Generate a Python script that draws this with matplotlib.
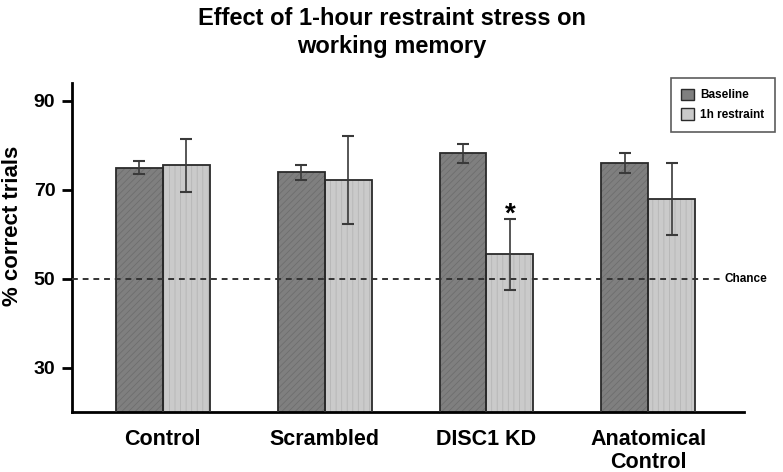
import matplotlib
matplotlib.use('Agg')
import matplotlib.pyplot as plt
import numpy as np
from matplotlib.patches import Patch

plt.rcParams['font.family'] = ['Liberation Sans', 'DejaVu Sans']
plt.rcParams['font.weight'] = 'bold'
plt.rcParams['hatch.linewidth'] = 0.6

groups = ['Control', 'Scrambled', 'DISC1 KD', 'Anatomical\nControl']
baseline = [75.0, 73.9, 78.2, 76.0]
baseline_err = [1.4, 1.7, 2.2, 2.3]
restraint = [75.5, 72.2, 55.5, 67.9]
restraint_err = [6.0, 10.0, 8.0, 8.1]
chance = 50
yticks = [30, 50, 70, 90]

fig = plt.figure(figsize=(7.83, 4.72), dpi=100)
ax = fig.add_axes([0.092, 0.127, 0.858, 0.697])

x = np.arange(len(groups))
w = 0.29

# fills with hatch, then outlines on top
ax.bar(x - w/2, baseline, w, bottom=0, color='#7f7f7f', edgecolor='#6e6e6e', hatch='/////', lw=0, zorder=2)
ax.bar(x + w/2, restraint, w, bottom=0, color='#cacaca', edgecolor='#b5b5b5', hatch='|||', lw=0, zorder=2)
ax.bar(x - w/2, baseline, w, fill=False, edgecolor='#2a2a2a', lw=1.3, zorder=3)
ax.bar(x + w/2, restraint, w, fill=False, edgecolor='#2a2a2a', lw=1.3, zorder=3)

ax.errorbar(x - w/2, baseline, yerr=baseline_err, fmt='none', ecolor='#3a3a3a', elinewidth=1.2, capsize=4, capthick=1.5, zorder=4)
ax.errorbar(x + w/2, restraint, yerr=restraint_err, fmt='none', ecolor='#3a3a3a', elinewidth=1.2, capsize=4, capthick=1.5, zorder=4)

ax.plot([-0.56, 3.45], [chance, chance], ls=(0, (3, 2.5)), color='#333333', lw=1.4, zorder=5)
ax.text(3.47, chance, 'Chance', fontsize=8.5, fontweight='bold', va='center', ha='left', clip_on=False)

ax.text(x[2] + w/2, restraint[2] + restraint_err[2] + 0.9, '*', fontsize=20, fontweight='bold', ha='center', va='center')

ax.set_xlim(-0.56, 3.59)
ax.set_ylim(20, 94)
ax.set_yticks(yticks)
ax.set_yticklabels([str(t) for t in yticks], fontsize=14, fontweight='bold')
ax.set_xticks(x)
ax.set_xticklabels(groups, fontsize=15.5, fontweight='bold', linespacing=1.12)
ax.tick_params(axis='x', length=0, pad=12)
ax.tick_params(axis='y', length=7, width=2, direction='out', pad=5)
fig.text(13/783, 1 - 226/472, '% correct trials', rotation=90, fontsize=16,
         fontweight='bold', ha='center', va='center')

for s in ['top', 'right']:
    ax.spines[s].set_visible(False)
ax.spines['left'].set_linewidth(2)
ax.spines['bottom'].set_linewidth(2)

handles = [Patch(facecolor='#7f7f7f', edgecolor='#2a2a2a', label='Baseline'),
           Patch(facecolor='#cacaca', edgecolor='#2a2a2a', label='1h restraint')]
leg = fig.legend(handles=handles, loc='upper right', bbox_to_anchor=(781/783, 1 - 72/472),
                 prop={'size': 8.5, 'weight': 'bold'}, frameon=True, fancybox=False,
                 handlelength=1.1, handleheight=1.1, handletextpad=0.5, borderpad=0.9,
                 labelspacing=0.6)
leg.get_frame().set_edgecolor('#333333')
leg.get_frame().set_linewidth(1.2)

fig.suptitle('Effect of 1-hour restraint stress on\nworking memory', x=0.5, y=0.985,
             fontsize=17, fontweight='bold', linespacing=1.25)

fig.savefig('out.png', dpi=100)
